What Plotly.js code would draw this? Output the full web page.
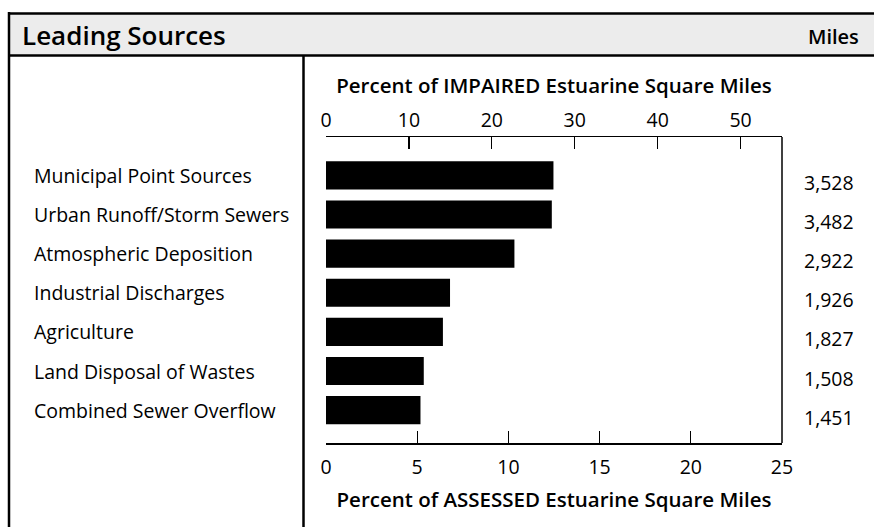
<!DOCTYPE html>
<html>
<head>
<meta charset="utf-8">
<script src="https://cdn.plot.ly/plotly-3.0.1.min.js"></script>
<style>
html,body{margin:0;padding:0;background:#fff;}
#chart{width:874px;height:527px;}
</style>
</head>
<body>
<div id="chart"></div>
<script>
// ---- data ----
const categories = [
  "Municipal Point Sources",
  "Urban Runoff/Storm Sewers",
  "Atmospheric Deposition",
  "Industrial Discharges",
  "Agriculture",
  "Land Disposal of Wastes",
  "Combined Sewer Overflow"
];
const assessedPct = [12.47, 12.38, 10.33, 6.80, 6.41, 5.36, 5.18];
const milesLabels = ["3,528", "3,482", "2,922", "1,926", "1,827", "1,508", "1,451"];
const assessedTicks = [0, 5, 10, 15, 20, 25];
const impairedTicks = [0, 10, 20, 30, 40, 50];
const headerTitle = "Leading Sources";
const headerUnit = "Miles";
const topTitle = "Percent of IMPAIRED Estuarine Square Miles";
const bottomTitle = "Percent of ASSESSED Estuarine Square Miles";

// ---- layout geometry (pixels) ----
const W = 874, H = 527;
const M = {l: 326, r: 92, t: 137, b: 84};
const PW = W - M.l - M.r, PH = H - M.t - M.b;
const px = x => (x - M.l) / PW;
const py = y => (H - M.b - y) / PH;

const FONT = '"Open Sans", "Noto Sans", sans-serif';

const bars = {
  type: 'bar',
  orientation: 'h',
  x: assessedPct,
  y: categories,
  marker: {color: '#000', line: {width: 0}},
  width: 0.72,
  xaxis: 'x',
  yaxis: 'y',
  hoverinfo: 'x+y'
};
const topAxisTrace = {
  type: 'scatter', mode: 'markers', x: [], y: [],
  xaxis: 'x2', yaxis: 'y', showlegend: false, hoverinfo: 'skip'
};

const annotations = [];
categories.forEach((c, i) => {
  annotations.push({
    xref: 'paper', yref: 'y', x: px(32), y: c, text: c,
    xanchor: 'left', yanchor: 'middle', showarrow: false,
    font: {family: FONT, size: 19.5, color: '#000'}
  });
  annotations.push({
    xref: 'paper', yref: 'y', x: px(802), y: c, text: milesLabels[i],
    xanchor: 'left', yanchor: 'middle', showarrow: false, yshift: -7,
    font: {family: FONT, size: 19.5, color: '#000'}
  });
});
annotations.push({
  xref: 'paper', yref: 'paper', x: px(20), y: py(35), text: headerTitle,
  xanchor: 'left', yanchor: 'middle', showarrow: false,
  font: {family: FONT, size: 26, weight: 600, color: '#000'}
});
annotations.push({
  xref: 'paper', yref: 'paper', x: px(861), y: py(36), text: headerUnit,
  xanchor: 'right', yanchor: 'middle', showarrow: false,
  font: {family: FONT, size: 20, weight: 600, color: '#000'}
});

const shapes = [
  {type: 'rect', xref: 'paper', yref: 'paper', x0: px(9), x1: px(880), y0: py(56), y1: py(13),
   fillcolor: '#ececec', line: {width: 0}, layer: 'below'},
  {type: 'line', xref: 'paper', yref: 'paper', x0: px(8), x1: px(880), y0: py(13.5), y1: py(13.5),
   line: {color: '#000', width: 2.5}},
  {type: 'line', xref: 'paper', yref: 'paper', x0: px(8), x1: px(880), y0: py(55.5), y1: py(55.5),
   line: {color: '#000', width: 2.5}},
  {type: 'line', xref: 'paper', yref: 'paper', x0: px(9), x1: px(9), y0: py(12), y1: py(540),
   line: {color: '#000', width: 2.5}},
  {type: 'line', xref: 'paper', yref: 'paper', x0: px(303.5), x1: px(303.5), y0: py(56), y1: py(540),
   line: {color: '#000', width: 2.5}},
  {type: 'line', xref: 'paper', yref: 'paper', x0: 1, x1: 1, y0: 0, y1: 1,
   line: {color: '#000', width: 1.5}}
];

const layout = {
  width: W, height: H,
  margin: M,
  paper_bgcolor: '#fff', plot_bgcolor: '#fff',
  showlegend: false,
  font: {family: FONT, color: '#000'},
  xaxis: {
    range: [0, 25], tickvals: assessedTicks, ticks: 'inside', ticklen: 12, tickwidth: 1.2,
    tickcolor: '#000', showline: true, linecolor: '#000', linewidth: 1.5,
    showgrid: false, zeroline: false, fixedrange: true, ticklabelstandoff: 6,
    tickfont: {family: FONT, size: 19.5, color: '#000'},
    title: {text: bottomTitle, font: {family: FONT, size: 20.5, weight: 600, color: '#000'}, standoff: 13}
  },
  xaxis2: {
    overlaying: 'x', side: 'top', anchor: 'y',
    range: [0, 55], tickvals: impairedTicks, ticks: 'inside', ticklen: 12, tickwidth: 1.2,
    tickcolor: '#000', showline: true, linecolor: '#000', linewidth: 1.5,
    showgrid: false, zeroline: false, fixedrange: true, ticklabelstandoff: 1,
    tickfont: {family: FONT, size: 19.5, color: '#000'},
    title: {text: topTitle, font: {family: FONT, size: 20.5, weight: 600, color: '#000'}, standoff: 6}
  },
  yaxis: {
    type: 'category', range: [6.84, -0.98], showticklabels: false, ticks: '',
    showline: false, showgrid: false, zeroline: false, fixedrange: true
  },
  annotations: annotations,
  shapes: shapes
};

Plotly.newPlot('chart', [bars, topAxisTrace], layout, {displayModeBar: false, staticPlot: true});
</script>
</body>
</html>
